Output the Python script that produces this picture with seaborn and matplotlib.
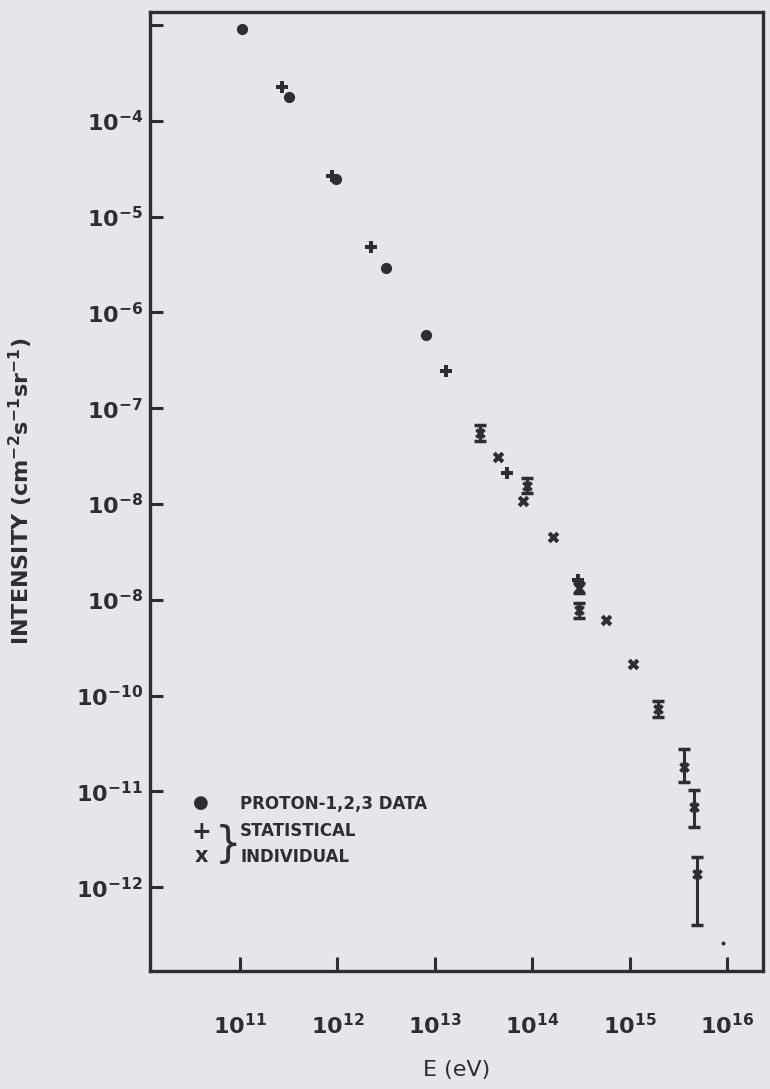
import numpy as np
import matplotlib
matplotlib.use("Agg")
import matplotlib.pyplot as plt
from matplotlib.ticker import NullLocator
import seaborn as sns

# ---- data (log10 E in eV, log10 intensity) ----
proton_logE = [11.02, 11.50, 11.99, 12.50, 12.91]
proton_logI = [-3.04, -3.75, -4.61, -5.54, -6.24]

stat_logE = [11.43, 11.94, 12.34, 13.11, 13.74, 14.47]
stat_logI = [-3.65, -4.58, -5.32, -6.61, -7.68, -8.79]

indiv_logE = [13.65, 13.91, 14.21, 14.76, 15.03]
indiv_logI = [-7.51, -7.97, -8.35, -9.21, -9.67]

# individual points carrying error bars
err_logE = [13.46, 13.95, 14.48, 14.48, 15.29, 15.56, 15.66, 15.69]
err_logI = [-7.26, -7.81, -8.88, -9.11, -10.14, -10.75, -11.16, -11.86]
err_lo = [-7.34, -7.89, -8.93, -9.19, -10.22, -10.90, -11.37, -12.40]
err_hi = [-7.18, -7.73, -8.83, -9.03, -10.06, -10.56, -10.99, -11.69]

extra_logE = [15.96]
extra_logI = [-12.58]

x_ticks = [11, 12, 13, 14, 15, 16]
x_labels = [r"$10^{11}$", r"$10^{12}$", r"$10^{13}$", r"$10^{14}$", r"$10^{15}$", r"$10^{16}$"]
y_ticks = [-3, -4, -5, -6, -7, -8, -9, -10, -11, -12]
y_labels = ["", r"$10^{-4}$", r"$10^{-5}$", r"$10^{-6}$", r"$10^{-7}$", r"$10^{-8}$",
            r"$10^{-8}$", r"$10^{-10}$", r"$10^{-11}$", r"$10^{-12}$"]

legend_labels = ["PROTON-1,2,3 DATA", "STATISTICAL", "INDIVIDUAL"]

# ---- style ----
sns.set_theme(style="ticks")
ink = "#2f2d33"
paper = "#e7e4ec"
plt.rcParams["font.family"] = ["DejaVu Sans"]
plt.rcParams["mathtext.default"] = "bf"

W, H = 770, 1089
fig = plt.figure(figsize=(W / 100, H / 100), dpi=100, facecolor=paper)
L, R, T, B = 150, 763, 12, 971
ax = fig.add_axes([L / W, 1 - B / H, (R - L) / W, (B - T) / H])
ax.set_facecolor(paper)

p = lambda a: 10.0 ** np.asarray(a, dtype=float)

sns.scatterplot(x=p(proton_logE), y=p(proton_logI), marker="o", s=65,
                color=ink, edgecolor=ink, linewidth=0, ax=ax, zorder=3)
sns.scatterplot(x=p(stat_logE), y=p(stat_logI), marker="P", s=75,
                color=ink, edgecolor=ink, linewidth=0, ax=ax, zorder=3)
sns.scatterplot(x=p(indiv_logE), y=p(indiv_logI), marker="X", s=70,
                color=ink, edgecolor=ink, linewidth=0, ax=ax, zorder=3)

eI = p(err_logI)
ax.errorbar(p(err_logE), eI, yerr=[eI - p(err_lo), p(err_hi) - eI], fmt="none",
            ecolor=ink, elinewidth=2.2, capsize=4, capthick=2.5, zorder=2)
sns.scatterplot(x=p(err_logE), y=eI, marker="X", s=60,
                color=ink, edgecolor=ink, linewidth=0, ax=ax, zorder=3)
sns.scatterplot(x=p(extra_logE), y=p(extra_logI), marker="o", s=8,
                color=ink, edgecolor=ink, linewidth=0, ax=ax, zorder=3)

ax.set_xscale("log")
ax.set_yscale("log")
ax.set_xlim(10 ** 10.075, 10 ** 16.37)
ax.set_ylim(10 ** -12.875, 10 ** -2.865)

ax.set_xticks(p(x_ticks))
ax.set_xticklabels(x_labels)
ax.set_yticks(p(y_ticks))
ax.set_yticklabels(y_labels)
ax.xaxis.set_minor_locator(NullLocator())
ax.yaxis.set_minor_locator(NullLocator())
ax.tick_params(axis="x", direction="in", length=10, width=2.2, color=ink,
               labelsize=16, labelcolor=ink, pad=30)
ax.tick_params(axis="y", direction="in", length=9, width=2.2, color=ink,
               labelsize=16, labelcolor=ink, pad=5)

for s in ax.spines.values():
    s.set_visible(True)
    s.set_linewidth(2.4)
    s.set_color(ink)

ax.set_xlabel("E (eV)", fontsize=16, color=ink)
ax.xaxis.set_label_coords(0.5, -(1060 - B) / (B - T))
ax.set_ylabel(r"INTENSITY (cm$^{-2}$s$^{-1}$sr$^{-1}$)", fontsize=16,
              fontweight="bold", color=ink)
ax.yaxis.set_label_coords(-(L - 35) / (R - L), 0.5)

# ---- hand-drawn style legend ----
def axpos(px, py):
    return (px - L) / (R - L), (B - py) / (B - T)

tr = ax.transAxes
for sym, py, fs in [("●", 803, 13), ("+", 832, 17), ("x", 856, 15)]:
    ax.text(*axpos(201, py), sym, transform=tr, ha="center", va="center",
            fontsize=fs, fontweight="bold", color=ink)
ax.text(*axpos(228, 845), "}", transform=tr, ha="center", va="center",
        fontsize=30, color=ink)
for lab, py in zip(legend_labels, [804, 831, 857]):
    ax.text(*axpos(240, py), lab, transform=tr, ha="left", va="center",
            fontsize=12, fontweight="bold", color=ink)

fig.savefig("out.png", dpi=100, facecolor=paper)
